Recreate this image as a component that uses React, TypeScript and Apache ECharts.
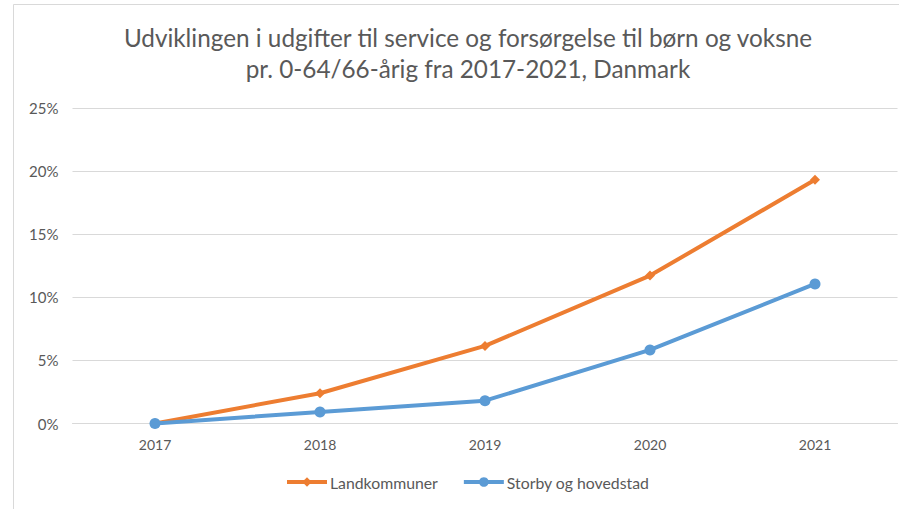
import React, { useEffect, useRef } from "react";
import * as echarts from "echarts";

const titleText = "Udviklingen i udgifter til service og forsørgelse til børn og voksne\npr. 0-64/66-årig fra 2017-2021, Danmark";
const years = ["2017", "2018", "2019", "2020", "2021"];
const landkommuner = [0, 2.4, 6.15, 11.72, 19.31];
const storby = [0, 0.91, 1.81, 5.83, 11.06];
const seriesNames = ["Landkommuner", "Storby og hovedstad"];

export default function App() {
  const ref = useRef<HTMLDivElement>(null);
  useEffect(() => {
    const chart = echarts.init(ref.current!, null, { renderer: "svg" });
    const font = "Lato";
    chart.setOption({
      animation: false,
      backgroundColor: "#ffffff",
      graphic: [
        {
          type: "rect",
          shape: { x: 13.5, y: 4.5, width: 900, height: 600 },
          style: { fill: "none", stroke: "#d9d9d9", lineWidth: 1 },
          silent: true,
        },
        {
          type: "text",
          x: 468,
          y: 22,
          silent: true,
          style: {
            text: titleText,
            fontFamily: font,
            fontSize: 24.3,
            fill: "#595959",
            lineHeight: 31,
            align: "center",
            verticalAlign: "top",
          },
        },
      ],
      legend: {
        top: 474,
        left: 285,
        padding: 0,
        itemWidth: 40,
        itemHeight: 12,
        itemGap: 24,
        lineStyle: { width: 4 },
        textStyle: { fontFamily: font, fontSize: 15.8, color: "#595959", padding: [0, 0, 0, -2] },
        data: seriesNames,
      },
      grid: { left: 72.5, right: 1.5, top: 108, bottom: 85.5, containLabel: false },
      xAxis: {
        type: "category",
        data: years,
        boundaryGap: true,
        axisLine: { show: true, lineStyle: { color: "#d9d9d9", width: 1 } },
        axisTick: { show: false },
        axisLabel: { color: "#595959", fontFamily: font, fontSize: 14, margin: 14 },
      },
      yAxis: {
        type: "value",
        min: 0,
        max: 25,
        interval: 5,
        axisLine: { show: false },
        axisTick: { show: false },
        splitLine: { lineStyle: { color: "#d9d9d9", width: 1 } },
        axisLabel: {
          formatter: "{value}%",
          color: "#595959",
          fontFamily: font,
          fontSize: 15,
          margin: 14,
        },
      },
      series: [
        {
          name: seriesNames[0],
          type: "line",
          data: landkommuner,
          symbol: "diamond",
          symbolSize: 10,
          lineStyle: { color: "#ED7D31", width: 4 },
          itemStyle: { color: "#ED7D31" },
          z: 2,
        },
        {
          name: seriesNames[1],
          type: "line",
          data: storby,
          symbol: "circle",
          symbolSize: 11,
          lineStyle: { color: "#5B9BD5", width: 4 },
          itemStyle: { color: "#5B9BD5" },
          z: 3,
        },
      ],
    });
    return () => chart.dispose();
  }, []);
  return (
    <div
      ref={ref}
      style={{ position: "fixed", left: 0, top: 0, width: 899, height: 509 }}
    />
  );
}
